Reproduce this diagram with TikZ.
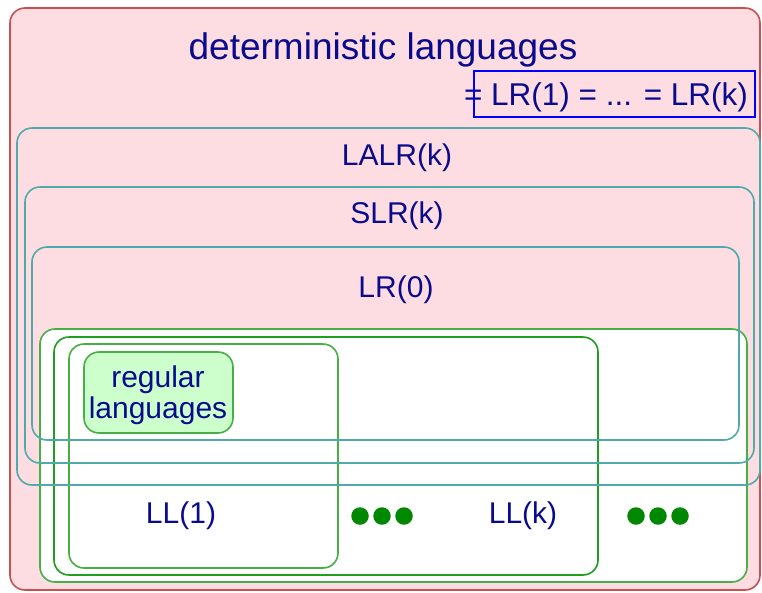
\documentclass[tikz,border=0pt]{standalone}
\usepackage{fontspec}
\setmainfont{Liberation Sans}
\definecolor{pinkbg}{RGB}{253,221,226}
\definecolor{redline}{RGB}{200,80,80}
\definecolor{tealline}{RGB}{80,170,170}
\definecolor{greenline}{RGB}{70,176,70}
\definecolor{greendark}{RGB}{30,160,30}
\definecolor{regfill}{RGB}{204,255,204}
\definecolor{navytext}{RGB}{10,10,140}
\definecolor{dotgreen}{RGB}{0,136,0}
\tikzset{
  setbox/.style={rounded corners=15pt, line width=1.6pt},
  lrbox/.style={setbox, draw=tealline},
  llbox/.style={setbox, draw=greenline},
  lbl/.style={anchor=base, inner sep=0pt, text=navytext, font=\fontsize{30}{30}\selectfont},
  dot/.style={circle, fill=dotgreen, inner sep=0pt, minimum size=17.5pt},
}
\begin{document}
\begin{tikzpicture}[x=1pt,y=-1pt]
\useasboundingbox (0,0) rectangle (762,592);
% outer: deterministic languages
\draw[setbox, fill=pinkbg, draw=redline] (10,8) rectangle (760,590);
% LL region (white)
\draw[llbox, fill=white] (40,329) rectangle (747,582);
\draw[llbox, draw=greendark] (54,337) rectangle (598,575);
\draw[llbox] (69,344) rectangle (338,568);
% LR family
\draw[lrbox] (17,128) rectangle (760,485);
\draw[lrbox] (25,187) rectangle (754,463);
\draw[lrbox] (32,247) rectangle (739,440);
% regular languages
\draw[setbox, fill=regfill, draw=greenline] (84,352) rectangle (233,433);
% labels
\node[lbl, font=\fontsize{37}{37}\selectfont] (det) at (383,59) {deterministic languages};
\node[lbl, font=\fontsize{31.5}{31.5}\selectfont] (lrk) at (606,105) {= LR(1) = ... = LR(k)};
\draw[line width=2.7pt, draw=blue] (474,71) rectangle (755,117);
\node[lbl] (lalr) at (397,165) {LALR(k)};
\node[lbl] (slr) at (397,223) {SLR(k)};
\node[lbl] (lr0) at (396,297) {LR(0)};
\node[lbl, align=center, font=\fontsize{30}{31}\selectfont] (reg) at (158,418) {regular\\languages};
\node[lbl] (ll1) at (181,523) {LL(1)};
\node[lbl] (llk) at (523,523) {LL(k)};
% dots
\node[dot] (d1) at (360,516) {};
\node[dot] (d2) at (382,516) {};
\node[dot] (d3) at (404,516) {};
\node[dot] (d4) at (636,516) {};
\node[dot] (d5) at (658,516) {};
\node[dot] (d6) at (680,516) {};
\end{tikzpicture}
\end{document}
